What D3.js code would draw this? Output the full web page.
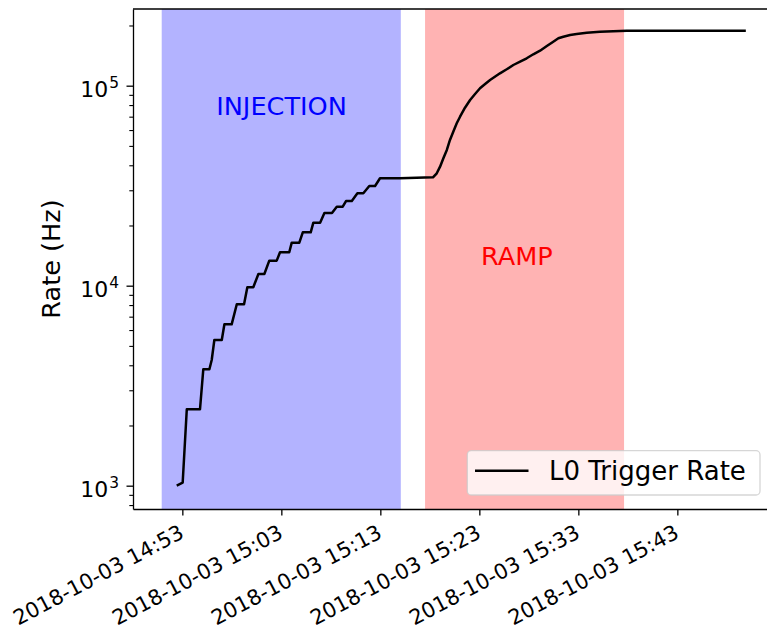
<!DOCTYPE html>
<html>
<head>
<meta charset="utf-8">
<script src="https://cdn.jsdelivr.net/npm/d3@7"></script>
<style>
  body { margin: 0; background: #fff; }
  svg { display: block; }
  text { font-family: "DejaVu Sans", sans-serif; }
</style>
</head>
<body>
<svg id="chart" width="767" height="632"></svg>
<script>
// L0 trigger rate during injection and energy ramp, 2018-10-03
const day = "2018-10-03";

const times = [
  "14:52:26", "14:53:02", "14:53:27", "14:54:47", "14:55:07", "14:55:44", "14:55:58",
  "14:56:14", "14:56:59", "14:57:15", "14:57:59", "14:58:30", "14:59:14", "14:59:34",
  "15:00:10", "15:00:41", "15:01:17", "15:01:47", "15:02:32", "15:02:52", "15:03:48",
  "15:04:03", "15:04:49", "15:05:10", "15:05:58", "15:06:14", "15:06:55", "15:07:21",
  "15:08:07", "15:08:36", "15:09:12", "15:09:32", "15:10:07", "15:10:41", "15:11:17",
  "15:11:53", "15:12:28", "15:12:58", "15:14:59", "15:18:19",
  "15:18:42", "15:19:02", "15:19:22", "15:19:43", "15:20:02", "15:20:22", "15:20:43",
  "15:21:03", "15:21:33", "15:22:04", "15:22:34", "15:23:04", "15:23:35", "15:24:05",
  "15:25:05", "15:25:46", "15:26:26", "15:27:07", "15:27:47", "15:28:27", "15:29:08",
  "15:29:49", "15:30:28", "15:30:59", "15:31:29", "15:32:10", "15:32:50", "15:33:51",
  "15:35:11", "15:37:53", "15:43:16", "15:49:55"
];
const rates = [
  1000, 1035, 2410, 2410, 3820, 3820, 4250,
  5350, 5350, 6410, 6410, 8070, 8070, 9820,
  9820, 11440, 11440, 13340, 13340, 14690, 14690,
  16410, 16410, 18490, 18490, 20650, 20650, 23100,
  23100, 24830, 24830, 26510, 26510, 28970, 28970,
  31520, 31520, 34440, 34440, 34800,
  36480, 39360, 43350, 47710, 53520, 58880, 64860,
  69980, 77620, 84820, 90880, 97050, 101980, 106800,
  115300, 120780, 126900, 131830, 137100, 143550, 149600,
  157950, 165960, 172580, 175800, 179300, 181300, 184100,
  186200, 188400, 188400, 188400
];

const injectionSpan = ["14:50:55", "15:15:04"];
const rampSpan = ["15:17:31", "15:37:37"];

const xTickLabels = [
  "2018-10-03 14:53", "2018-10-03 15:03", "2018-10-03 15:13",
  "2018-10-03 15:23", "2018-10-03 15:33", "2018-10-03 15:43"
];
const yMajorTicks = [1e3, 1e4, 1e5];
const yTickExponents = ["3", "4", "5"];
const seriesName = "L0 Trigger Rate";

const parseTime = d3.timeParse("%Y-%m-%d %H:%M:%S");
const parseTick = d3.timeParse("%Y-%m-%d %H:%M");
const T = s => parseTime(day + " " + s);

const plot = { left: 133, top: 9, right: 778, bottom: 509 };

const x = d3.scaleTime()
  .domain([T("14:48:01"), T("15:53:10")])
  .range([plot.left, plot.right]);
const y = d3.scaleLog()
  .domain([764.6, 241800])
  .range([plot.bottom, plot.top]);

const svg = d3.select("#chart");
svg.append("rect").attr("width", 767).attr("height", 632).attr("fill", "#fff");

// shaded phases
const spans = [
  { range: injectionSpan, color: "#b3b3ff" },
  { range: rampSpan, color: "#ffb3b3" }
];
svg.append("g").selectAll("rect").data(spans).join("rect")
  .attr("x", d => x(T(d.range[0])))
  .attr("width", d => x(T(d.range[1])) - x(T(d.range[0])))
  .attr("y", plot.top)
  .attr("height", plot.bottom - plot.top)
  .attr("fill", d => d.color);

// phase labels
svg.append("text")
  .attr("x", x(T("14:56:25"))).attr("y", y(71000))
  .attr("font-size", 25.6).attr("fill", "#0000ff")
  .text("INJECTION");
svg.append("text")
  .attr("x", x(T("15:23:10"))).attr("y", y(12690))
  .attr("font-size", 25.6).attr("fill", "#ff0000")
  .text("RAMP");

// rate curve
const points = times.map((t, i) => ({ t: T(t), v: rates[i] }));
svg.append("path")
  .datum(points)
  .attr("fill", "none")
  .attr("stroke", "#000")
  .attr("stroke-width", 2.5)
  .attr("stroke-linejoin", "round")
  .attr("d", d3.line().x(d => x(d.t)).y(d => y(d.v)));

// x axis
const fmt = d3.timeFormat("%Y-%m-%d %H:%M");
const gx = svg.append("g")
  .attr("transform", `translate(0,${plot.bottom})`)
  .call(d3.axisBottom(x)
    .tickValues(xTickLabels.map(parseTick))
    .tickFormat(fmt)
    .tickSize(6.5)
    .tickSizeOuter(0));
gx.selectAll(".tick line").attr("stroke", "#000").attr("stroke-width", 1.3);
gx.select(".domain").attr("stroke", "#000").attr("stroke-width", 1.3);
gx.selectAll(".tick text")
  .attr("font-family", "DejaVu Sans, sans-serif")
  .attr("font-size", 21)
  .attr("fill", "#000")
  .attr("text-anchor", "end")
  .attr("x", 0).attr("y", 0).attr("dy", 0)
  .attr("transform", "translate(2.5,28) rotate(-28)");

// y axis, major and minor ticks
const minorTicks = [];
[100, 1000, 10000, 100000].forEach(dec => {
  for (let k = 2; k <= 9; k++) {
    const v = k * dec;
    if (v >= y.domain()[0] && v <= y.domain()[1]) minorTicks.push(v);
  }
});
const gyMinor = svg.append("g")
  .attr("transform", `translate(${plot.left},0)`)
  .call(d3.axisLeft(y).tickValues(minorTicks).tickFormat("").tickSize(3.7).tickSizeOuter(0));
gyMinor.select(".domain").remove();
gyMinor.selectAll(".tick line").attr("stroke", "#000").attr("stroke-width", 1.1);

const gy = svg.append("g")
  .attr("transform", `translate(${plot.left},0)`)
  .call(d3.axisLeft(y).tickValues(yMajorTicks).tickFormat("").tickSize(6.5).tickSizeOuter(0));
gy.select(".domain").attr("stroke", "#000").attr("stroke-width", 1.3);
gy.selectAll(".tick line").attr("stroke", "#000").attr("stroke-width", 1.3);
gy.selectAll(".tick").each(function (d, i) {
  const t = d3.select(this).append("text")
    .attr("x", -14).attr("y", 10.5)
    .attr("text-anchor", "end")
    .attr("font-family", "DejaVu Sans, sans-serif")
    .attr("font-size", 22)
    .attr("fill", "#000");
  t.append("tspan").text("10");
  t.append("tspan").attr("font-size", 15.4).attr("dx", 1).attr("dy", -9).text(yTickExponents[i]);
});

// top and right spines
svg.append("line")
  .attr("x1", plot.left).attr("x2", plot.right)
  .attr("y1", plot.top).attr("y2", plot.top)
  .attr("stroke", "#000").attr("stroke-width", 1.3);
svg.append("line")
  .attr("x1", plot.right).attr("x2", plot.right)
  .attr("y1", plot.top).attr("y2", plot.bottom)
  .attr("stroke", "#000").attr("stroke-width", 1.3);

// y label
svg.append("text")
  .attr("transform", `translate(60,${(plot.top + plot.bottom) / 2}) rotate(-90)`)
  .attr("text-anchor", "middle")
  .attr("font-size", 25.6)
  .attr("fill", "#000")
  .text("Rate (Hz)");

// legend
const lg = svg.append("g");
lg.append("rect")
  .attr("x", 467.3).attr("y", 450.7)
  .attr("width", 292.7).attr("height", 44.3)
  .attr("rx", 4)
  .attr("fill", "#fff").attr("fill-opacity", 0.8)
  .attr("stroke", "#cccccc").attr("stroke-opacity", 0.8).attr("stroke-width", 1.3);
lg.append("line")
  .attr("x1", 475).attr("x2", 528.5)
  .attr("y1", 470.7).attr("y2", 470.7)
  .attr("stroke", "#000").attr("stroke-width", 2.5);
lg.append("text")
  .attr("x", 549).attr("y", 479.5)
  .attr("font-size", 26)
  .attr("fill", "#000")
  .text(seriesName);
</script>
</body>
</html>
